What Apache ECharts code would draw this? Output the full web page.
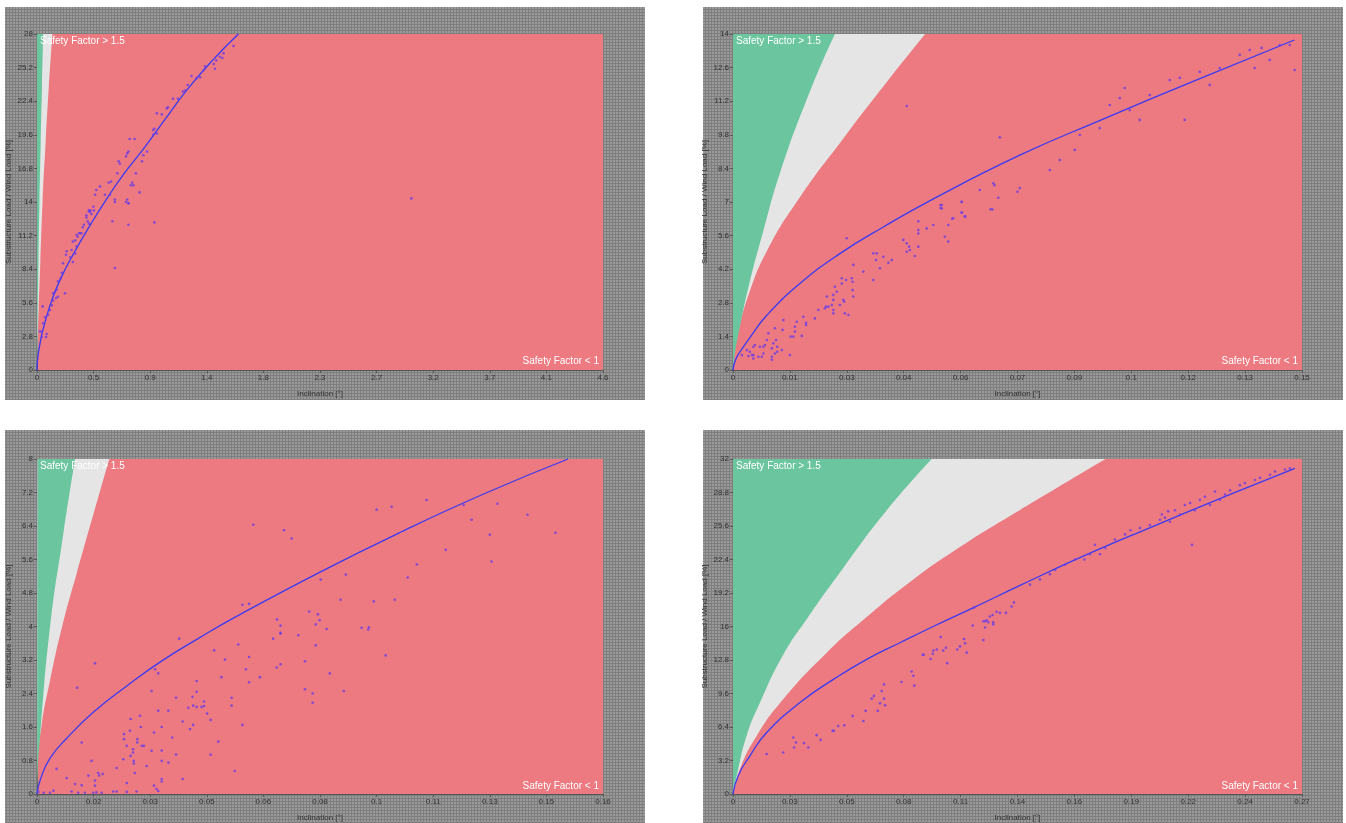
<!DOCTYPE html>
<html>
<head>
<meta charset="utf-8">
<script src="https://cdn.jsdelivr.net/npm/echarts@6/dist/echarts.min.js"></script>
<style>
html,body{margin:0;padding:0;background:#fff;}
#main{width:1346px;height:823px;}
</style>
</head>
<body>
<div id="main"></div>
<script>
// ---- panel 1 (top left) ----
var p1XLabels = ['0','0.5','0.9','1.4','1.8','2.3','2.7','3.2','3.7','4.1','4.6'];
var p1YLabels = ['0','2.8','5.6','8.4','11.2','14','16.8','19.6','22.4','25.2','28'];
var p1Green = [[0,0],[0.002,2],[0.006,5],[0.012,9],[0.02,14],[0.03,19],[0.04,23.5],[0.05,28]];
var p1Grey = [[0,0],[0.004,2],[0.013,5],[0.027,9],[0.045,14],[0.07,19],[0.095,23.5],[0.125,28]];
var p1Fit = [[0,0],[0.002,0.5],[0.01,1.3],[0.03,2.5],[0.065,4.0],[0.13,6.1],[0.2,7.8],[0.28,9.4],[0.42,11.9],[0.56,14.2],[0.7,16.3],[0.86,18.4],[1.03,20.8],[1.21,23.3],[1.42,25.8],[1.63,28]];
var p1Pts = [[1.59,27.0],[1.51,26.4],[1.48,26.1],[1.50,26.0],[1.45,25.8],[1.43,25.5],[1.44,25.1],[1.36,25.3],[1.35,25.0],[1.32,24.4],
  [1.29,24.3],[1.25,24.5],[1.22,23.75],[1.20,23.3],[1.18,23.2],[1.14,22.6],[1.10,22.6],[1.06,21.9],[1.05,21.8],[0.97,21.4],
  [1.01,21.3],[0.94,20.0],[0.95,20.1],[0.97,19.7],[0.94,19.6],[0.89,18.2],[0.86,17.9],[0.85,17.4],[0.79,19.25],[0.75,19.25],
  [0.74,18.2],[0.73,18.05],[0.72,17.8],[0.66,17.4],[0.67,17.2],[0.65,16.4],[0.77,15.6],[0.76,15.4],[0.78,15.4],[0.80,16.4],
  [0.83,14.8],[0.60,15.7],[0.58,15.6],[0.59,14.6],[0.55,14.6],[0.51,15.3],[0.48,15.0],[0.47,14.6],[0.63,14.2],[0.73,14.2],
  [0.74,13.9],[0.43,13.3],[0.42,13.2],[0.44,13.0],[0.40,12.7],[0.456,13.6],[0.46,13.3],[0.43,13.2],[0.42,13.3],[0.40,12.9],
  [0.41,12.4],[0.42,12.2],[0.43,12.1],[0.38,12.1],[0.37,11.9],[0.36,11.4],[0.35,11.4],[0.34,11.4],[0.32,11.25],[0.33,11.1],
  [0.31,10.8],[0.29,10.7],[0.32,10.3],[0.28,10.0],[0.24,9.9],[0.235,9.6],[0.27,9.4],[0.31,9.7],[0.29,9.0],[0.21,8.9],
  [0.20,8.1],[0.19,7.6],[0.17,7.4],[0.16,6.7],[0.146,6.5],[0.13,6.4],[0.17,6.1],[0.154,6.0],[0.227,6.4],[0.13,5.8],
  [0.12,5.4],[0.105,5.0],[0.09,4.6],[0.065,4.4],[0.05,3.9],[0.046,5.3],[0.038,3.2],[0.078,3.0],[0.073,2.75],[0.038,2.75],
  [0.024,3.2],[0.63,14.0],[0.72,14.0],[0.74,13.9],[0.61,12.4],[0.74,12.1],[0.95,12.3],[0.63,8.5],[3.03,14.3]];

// ---- panel 2 (top right) ----
var p2XLabels = ['0','0.01','0.03','0.04','0.06','0.07','0.09','0.1','0.12','0.13','0.15'];
var p2YLabels = ['0','1.4','2.8','4.2','5.6','7','8.4','9.8','11.2','12.6','14'];
var p2Green = [[0,0],[0.0005,0.7],[0.0023,2.2],[0.0044,3.7],[0.0079,5.8],[0.0122,8.2],[0.02,11.6],[0.0265,14]];
var p2Grey = [[0,0],[0.0004,0.8],[0.0014,1.6],[0.004,3.1],[0.0088,4.95],[0.0174,7.2],[0.0287,9.65],[0.04,12.0],[0.05,14]];
var p2Fit = [[0,0],[0.0006,0.4],[0.0018,0.75],[0.0044,1.35],[0.0088,2.28],[0.0174,3.6],[0.0278,4.85],[0.039,5.95],[0.052,7.12],[0.0746,8.95],[0.0955,10.4],[0.12,12.05],[0.146,13.75]];
var p2Pts = [[0.0452,11.0],[0.0694,9.7],[0.0677,7.78],[0.068,7.7],[0.0642,7.5],[0.069,7.18],[0.074,7.43],[0.054,6.87],[0.054,6.75],[0.0595,7.0],
  [0.0595,6.55],[0.057,6.3],[0.0604,6.4],[0.067,6.7],[0.0296,5.49],[0.030,2.29],[0.0291,2.36],[0.0287,2.92],[0.0289,2.85],[0.0278,2.71],
  [0.0283,3.82],[0.0294,3.75],[0.0283,3.6],[0.0309,3.82],[0.0311,3.68],[0.0311,3.33],[0.0313,3.06],[0.0313,4.38],[0.0265,3.47],[0.027,3.26],
  [0.0261,3.13],[0.0261,2.92],[0.0257,2.71],[0.0261,2.5],[0.0261,2.36],[0.0244,3.06],[0.0242,2.64],[0.0239,2.57],[0.0248,2.64],[0.0222,2.5],
  [0.0213,2.15],[0.0183,2.22],[0.019,1.97],[0.019,1.88],[0.0166,2.01],[0.0161,1.8],[0.0161,1.6],[0.0179,1.42],[0.0157,1.39],[0.015,1.39],
  [0.0148,0.62],[0.0131,2.08],[0.0129,1.67],[0.0127,0.83],[0.0109,1.74],[0.0112,1.25],[0.0115,0.97],[0.0115,0.76],[0.0105,1.11],[0.0101,0.9],
  [0.0109,0.69],[0.0101,0.55],[0.0101,0.43],[0.0092,1.53],[0.0088,1.25],[0.0083,1.04],[0.0079,0.97],[0.007,0.97],[0.0079,0.69],[0.0075,0.55],
  [0.0066,0.55],[0.0053,0.62],[0.0053,0.97],[0.0057,1.04],[0.0044,0.76],[0.0049,0.62],[0.004,0.58],[0.0036,0.83],[0.0023,0.62],[0.0053,0.48],
  [0.0365,4.86],[0.0374,4.86],[0.0372,4.58],[0.0339,4.1],[0.0365,3.75],[0.0382,4.24],[0.0391,4.72],[0.0404,4.47],[0.0413,4.58],[0.0443,5.42],
  [0.0452,5.28],[0.0458,5.14],[0.046,5.0],[0.0452,4.93],[0.0473,4.75],[0.0482,5.83],[0.0482,5.69],[0.0482,5.14],[0.0482,6.2],[0.0504,5.9],
  [0.0521,6.04],[0.0551,5.55],[0.056,5.35],[0.056,6.04],[0.0573,6.32],[0.0595,6.56],[0.0603,6.4],[0.0543,6.87],[0.0543,6.73],[0.0595,7.01],
  [0.0675,6.69],[0.0746,7.58],[0.0824,8.33],[0.085,8.75],[0.0889,9.17],[0.0902,9.79],[0.0954,10.08],[0.098,11.04],[0.1006,11.33],[0.1019,11.75],
  [0.1032,10.83],[0.1058,10.42],[0.1084,11.46],[0.1136,12.08],[0.1162,12.17],[0.1175,10.42],[0.1214,12.42],[0.124,11.88],[0.1266,12.58],[0.1318,13.13],
  [0.1344,13.33],[0.1357,12.58],[0.1375,13.42],[0.1396,12.92],[0.1422,13.54],[0.1448,13.54],[0.1461,12.5]];

// ---- panel 3 (bottom left) ----
var p3XLabels = ['0','0.02','0.03','0.05','0.06','0.08','0.1','0.11','0.13','0.15','0.16'];
var p3YLabels = ['0','0.8','1.6','2.4','3.2','4','4.8','5.6','6.4','7.2','8'];
var p3Green = [[0,0],[0.0002,0.6],[0.0009,1.4],[0.0036,3.9],[0.0075,6.2],[0.0109,8]];
var p3Grey = [[0,0],[0.0001,0.6],[0.0013,1.63],[0.0037,2.7],[0.0072,4.0],[0.0114,5.28],[0.0207,8]];
var p3Fit = [[0,0],[0.0009,0.33],[0.0037,0.85],[0.0085,1.33],[0.0161,1.95],[0.0257,2.58],[0.0352,3.15],[0.0467,3.74],[0.0562,4.2],[0.081,5.3],[0.104,6.25],[0.128,7.17],[0.152,8.0]];
var p3Pts = [[0.0407,3.71],[0.0166,3.12],[0.0115,2.54],[0.0128,1.23],[0.0056,0.6],[0.0085,0.38],[0.0109,0.24],[0.0128,0.21],[0.0147,0.44],[0.0156,0.79],
  [0.0166,0.32],[0.0166,0.2],[0.0175,0.5],[0.0178,0.44],[0.0188,0.48],[0.0228,0.62],[0.0257,0.26],[0.0247,0.83],[0.0249,1.31],[0.0249,1.43],
  [0.0257,1.15],[0.0268,1.79],[0.0266,1.51],[0.0268,0.91],[0.0275,1.07],[0.0275,0.99],[0.0277,0.79],[0.0277,0.73],[0.028,0.5],[0.0287,1.31],
  [0.0287,1.23],[0.0295,1.87],[0.0297,1.6],[0.03,1.15],[0.0306,1.15],[0.0314,0.67],[0.0328,1.03],[0.0328,2.46],[0.0338,2.98],[0.0335,1.47],
  [0.0347,1.99],[0.0347,2.88],[0.0357,0.79],[0.0357,0.3],[0.0357,0.36],[0.0357,1.04],[0.0357,1.6],[0.0376,0.75],[0.0376,1.99],[0.0387,1.35],
  [0.0398,2.3],[0.0398,0.94],[0.0417,1.73],[0.0417,0.36],[0.0433,2.06],[0.0438,1.55],[0.0445,2.32],[0.0447,2.11],[0.0447,1.65],[0.0457,2.44],
  [0.0457,2.7],[0.0457,2.08],[0.0471,2.08],[0.0478,2.21],[0.0478,2.1],[0.0487,1.92],[0.0497,1.77],[0.0497,0.94],[0.0507,3.43],[0.0519,1.25],
  [0.0528,2.79],[0.0538,3.21],[0.0557,2.3],[0.0557,2.11],[0.0566,0.55],[0.0576,3.57],[0.0588,1.65],[0.0598,2.98],[0.0607,3.27],[0.0607,2.67],
  [0.0638,2.79],[0.0676,3.71],[0.0686,3.02],[0.0697,3.1],[0.0697,3.85],[0.0748,3.79],[0.0767,3.17],[0.0767,2.5],[0.0789,2.4],[0.0789,2.18],
  [0.0798,3.55],[0.0798,4.05],[0.0809,4.15],[0.0829,3.94],[0.0838,2.88],[0.0878,2.46],[0.0929,3.97],[0.0948,3.93],[0.0998,3.31],
  [0.0004,0.05],[0.0019,0.03],[0.0037,0.03],[0.0047,0.08],[0.0099,0.06],[0.0118,0.03],[0.0137,0.03],[0.0161,0.03],[0.017,0.04],[0.0185,0.03],
  [0.0218,0.06],[0.0228,0.06],[0.0257,0.05],[0.0285,0.06],[0.0335,0.2],[0.0342,0.12],[0.0347,0.07],
  [0.0619,6.43],[0.0707,6.3],[0.0729,6.1],[0.0588,4.52],[0.0607,4.54],[0.0687,4.17],[0.0697,4.02],[0.0697,3.83],[0.0779,4.36],
  [0.0972,6.79],[0.1015,6.86],[0.1115,7.02],[0.1221,6.9],[0.1244,6.55],[0.1318,6.93],[0.1404,6.67],[0.1484,6.24],[0.1296,6.19],[0.1301,5.55],
  [0.117,5.83],[0.1087,5.48],[0.1061,5.17],[0.1024,4.64],[0.0964,4.6],[0.095,3.98],[0.0884,5.24],[0.0869,4.64],[0.0812,5.12],[0.0804,4.29]];

// ---- panel 4 (bottom right) ----
var p4XLabels = ['0','0.03','0.05','0.08','0.11','0.14','0.16','0.19','0.22','0.24','0.27'];
var p4YLabels = ['0','3.2','6.4','9.6','12.8','16','19.2','22.4','25.6','28.8','32'];
var p4Green = [[0,0],[0.0025,2.38],[0.0065,5.55],[0.0129,8.73],[0.024,13.3],[0.0352,16.7],[0.0527,21.6],[0.0735,27.1],[0.095,32]];
var p4Grey = [[0,0],[0.0033,2.38],[0.0113,5.55],[0.024,9.05],[0.0448,13.5],[0.0615,16.5],[0.0862,20.5],[0.1117,24.0],[0.137,27.1],[0.178,32]];
var p4Fit = [[0,0],[0.0025,1.75],[0.0081,3.65],[0.0161,5.87],[0.032,8.73],[0.048,10.95],[0.0639,12.86],[0.0798,14.45],[0.0957,16.0],[0.115,17.8],[0.137,19.9],[0.165,22.5],[0.2,25.5],[0.235,28.4],[0.2686,31.1]];
var p4Pts = [[0.0161,3.81],[0.024,3.97],[0.0288,5.4],[0.0292,4.44],[0.0301,4.92],[0.0339,4.86],[0.036,4.44],[0.04,5.62],[0.0419,5.17],[0.0476,6.03],
  [0.0482,6.03],[0.0503,6.5],[0.0532,6.57],[0.0572,7.46],[0.0623,6.98],[0.0634,7.94],[0.0663,9.11],[0.0674,9.37],[0.0692,7.94],[0.0703,8.67],
  [0.0711,9.84],[0.0722,10.47],[0.0722,9.11],[0.0727,8.48],[0.0806,10.7],[0.0854,11.7],[0.0862,11.3],[0.0867,10.35],[0.0907,13.3],[0.0912,13.3],
  [0.0945,12.9],[0.0955,13.4],[0.0958,13.7],[0.0974,13.8],[0.0993,15.0],[0.1005,13.7],[0.1018,13.96],[0.1024,12.5],[0.1072,13.8],[0.1085,14.1],
  [0.1104,14.8],[0.1109,14.4],[0.1117,13.5],[0.1146,16.1],[0.1197,14.7],[0.1205,15.9],[0.1205,16.5],[0.122,16.4],[0.1244,16.4],[0.1152,17.8],
  [0.1197,16.5],[0.1213,16.6],[0.1228,16.95],[0.1241,17.1],[0.126,17.4],[0.1276,17.3],[0.1305,17.3],[0.1332,17.9],[0.1343,18.3],[0.1244,16.2],
  [0.142,20.0],[0.1467,20.5],[0.1515,21.0],[0.154,21.4],[0.1587,21.9],[0.1635,22.4],[0.168,22.4],[0.1706,22.9],[0.173,23.8],[0.1754,22.9],
  [0.178,23.5],[0.1826,24.3],[0.1874,24.8],[0.19,25.2],[0.1945,25.4],[0.1993,25.7],[0.2041,26.2],[0.205,26.7],[0.2065,26.4],[0.208,27.0],
  [0.2089,26.0],[0.2113,27.1],[0.2137,26.7],[0.216,27.6],[0.2185,27.8],[0.2194,23.8],[0.2208,27.1],[0.2232,28.1],[0.2256,28.4],[0.228,27.6],
  [0.2304,28.9],[0.2328,28.1],[0.2352,28.6],[0.2376,29.0],[0.2423,29.5],[0.2447,29.7],[0.2495,30.0],[0.2519,30.2],[0.2567,30.5],[0.2591,30.8],
  [0.2639,31.0],[0.2662,31.1]];

var xMaxes = [4.58, 0.148, 0.162, 0.272];
var yMaxes = [28, 14, 8, 32];

var chart = echarts.init(document.getElementById('main'));
var FONT = '"Liberation Sans", Arial, sans-serif';

// gray mesh texture for the panel backgrounds
var tile = document.createElement('canvas');
tile.width = 3; tile.height = 3;
var tctx = tile.getContext('2d');
tctx.fillStyle = '#9a9a9a';
tctx.fillRect(0, 0, 3, 3);
tctx.fillStyle = '#7e7e7e';
tctx.fillRect(0, 0, 3, 1);
tctx.fillRect(0, 0, 1, 3);

var boxes = [
  {bg: [5, 7, 640, 393], grid: [37, 34, 566, 336]},
  {bg: [703, 7, 640, 393], grid: [733, 34, 569, 336]},
  {bg: [5, 430, 640, 393], grid: [37, 459, 566, 336]},
  {bg: [703, 430, 640, 393], grid: [733, 459, 569, 336]}
];
var panels = [
  {xl: p1XLabels, yl: p1YLabels, green: p1Green, grey: p1Grey, fit: p1Fit, pts: p1Pts},
  {xl: p2XLabels, yl: p2YLabels, green: p2Green, grey: p2Grey, fit: p2Fit, pts: p2Pts},
  {xl: p3XLabels, yl: p3YLabels, green: p3Green, grey: p3Grey, fit: p3Fit, pts: p3Pts},
  {xl: p4XLabels, yl: p4YLabels, green: p4Green, grey: p4Grey, fit: p4Fit, pts: p4Pts}
];

var grids = [], xAxes = [], yAxes = [], series = [], graphics = [];

panels.forEach(function (p, i) {
  var b = boxes[i];
  var xStep = xMaxes[i] / 10, yStep = yMaxes[i] / 10;
  graphics.push({
    type: 'rect', z: -10,
    shape: {x: b.bg[0], y: b.bg[1], width: b.bg[2], height: b.bg[3]},
    style: {fill: {image: tile, repeat: 'repeat'}}
  });
  grids.push({
    left: b.grid[0], top: b.grid[1], width: b.grid[2], height: b.grid[3],
    show: true, backgroundColor: '#ec7a80', borderWidth: 0
  });
  var axisText = {color: '#333', fontSize: 8, fontFamily: FONT};
  xAxes.push({
    gridIndex: i, type: 'value', min: 0, max: xStep * 10, interval: xStep,
    name: 'Inclination [°]', nameLocation: 'middle', nameGap: 20,
    nameTextStyle: axisText,
    axisLine: {lineStyle: {color: '#555', width: 1}},
    axisTick: {length: 3, lineStyle: {color: '#555'}},
    splitLine: {show: false},
    axisLabel: Object.assign({margin: 4, showMaxLabel: true, showMinLabel: true, formatter: function (v) {
      return p.xl[Math.round(v / xStep)];
    }}, axisText)
  });
  yAxes.push({
    gridIndex: i, type: 'value', min: 0, max: yStep * 10, interval: yStep,
    name: 'Substructure Load / Wind Load [%]', nameLocation: 'middle', nameGap: 24,
    nameTextStyle: axisText,
    axisLine: {lineStyle: {color: '#555', width: 1}},
    axisTick: {length: 3, lineStyle: {color: '#555'}},
    splitLine: {show: false},
    axisLabel: Object.assign({margin: 4, showMaxLabel: true, formatter: function (v) {
      return p.yl[Math.round(v / yStep)];
    }}, axisText)
  });
  series.push({
    type: 'line', xAxisIndex: i, yAxisIndex: i, data: p.grey, smooth: 0.5,
    showSymbol: false, silent: true, z: 1, lineStyle: {opacity: 0},
    areaStyle: {origin: 'end', color: '#e5e5e5', opacity: 1}
  });
  series.push({
    type: 'line', xAxisIndex: i, yAxisIndex: i, data: p.green, smooth: 0.5,
    showSymbol: false, silent: true, z: 2, lineStyle: {opacity: 0},
    areaStyle: {origin: 'end', color: '#6bc59e', opacity: 1}
  });
  series.push({
    type: 'line', xAxisIndex: i, yAxisIndex: i, data: p.fit, smooth: 0.5,
    showSymbol: false, z: 3, lineStyle: {color: '#3a3af2', width: 1.3}
  });
  series.push({
    type: 'scatter', xAxisIndex: i, yAxisIndex: i, data: p.pts, z: 4,
    symbolSize: 2.6, itemStyle: {color: '#6b3ce6'}
  });
  graphics.push({
    type: 'text', z: 100, left: b.grid[0] + 3, top: b.grid[1] + 2,
    style: {text: 'Safety Factor > 1.5', fill: '#fff', font: '10px ' + FONT}
  });
  graphics.push({
    type: 'text', z: 100, right: 1346 - (b.grid[0] + b.grid[2]) + 4, top: b.grid[1] + b.grid[3] - 14,
    style: {text: 'Safety Factor < 1', fill: '#fff', font: '10px ' + FONT}
  });
});

chart.setOption({
  backgroundColor: '#fff',
  animation: false,
  grid: grids,
  xAxis: xAxes,
  yAxis: yAxes,
  series: series,
  graphic: graphics
});
</script>
</body>
</html>
